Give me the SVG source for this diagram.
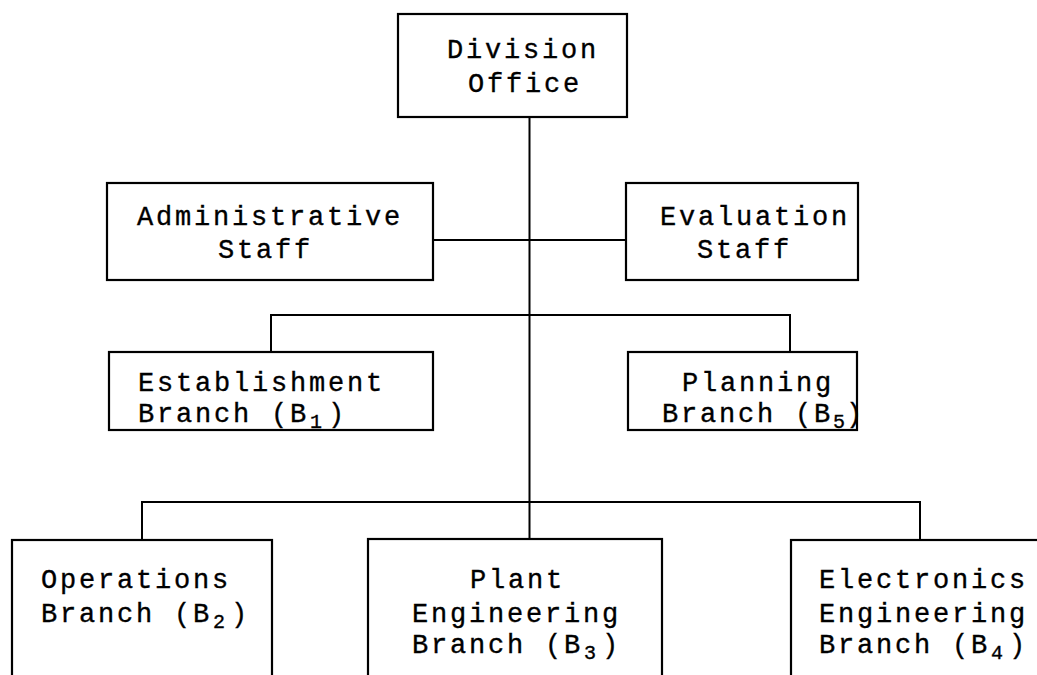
<svg xmlns="http://www.w3.org/2000/svg" width="1037" height="675" viewBox="0 0 1037 675">
<style>
.box{fill:#fff;stroke:#000;stroke-width:2.2}
.ln{fill:none;stroke:#000;stroke-width:2}
text{font-family:"Liberation Mono","Courier New",monospace;font-size:27px;letter-spacing:2.8px;fill:#000;stroke:#000;stroke-width:0.35}
.sub{font-size:20px;letter-spacing:0}
</style>
<rect width="1037" height="675" fill="#fff"/>
<g id="connectors">
<path class="ln" d="M529.5 117 V539"/>
<path class="ln" d="M433 240 H626"/>
<path class="ln" d="M271 352 V315 H790 V352"/>
<path class="ln" d="M142 540 V502 H920 V540"/>
</g>
<g id="division-office">
<rect class="box" x="398" y="14" width="229" height="103"/>
<text x="447" y="58">Division</text>
<text x="468" y="92">Office</text>
</g>
<g id="administrative-staff">
<rect class="box" x="107" y="183" width="326" height="97"/>
<text x="137" y="225">Administrative</text>
<text x="218" y="258">Staff</text>
</g>
<g id="evaluation-staff">
<rect class="box" x="626" y="183" width="232" height="97"/>
<text x="660" y="225">Evaluation</text>
<text x="697" y="258">Staff</text>
</g>
<g id="establishment-branch">
<rect class="box" x="109" y="352" width="324" height="78"/>
<text x="138" y="391">Establishment</text>
<text x="138" y="422">Branch (B<tspan class="sub" x="310" dy="6">1</tspan><tspan x="328" dy="-6">)</tspan></text>
</g>
<g id="planning-branch">
<rect class="box" x="628" y="352" width="229" height="78"/>
<text x="682" y="391">Planning</text>
<text x="662" y="422">Branch (B<tspan class="sub" x="833" dy="6">5</tspan><tspan x="846" dy="-6">)</tspan></text>
</g>
<g id="operations-branch">
<rect class="box" x="12" y="540" width="260" height="160"/>
<text x="41" y="588">Operations</text>
<text x="41" y="622">Branch (B<tspan class="sub" x="213" dy="6">2</tspan><tspan x="231" dy="-6">)</tspan></text>
</g>
<g id="plant-engineering-branch">
<rect class="box" x="368" y="539" width="294" height="160"/>
<text x="470" y="588">Plant</text>
<text x="412" y="622">Engineering</text>
<text x="412" y="653">Branch (B<tspan class="sub" x="584" dy="6">3</tspan><tspan x="602" dy="-6">)</tspan></text>
</g>
<g id="electronics-engineering-branch">
<rect class="box" x="791" y="540" width="280" height="160"/>
<text x="819" y="588">Electronics</text>
<text x="819" y="622">Engineering</text>
<text x="819" y="653">Branch (B<tspan class="sub" x="991" dy="6">4</tspan><tspan x="1009" dy="-6">)</tspan></text>
</g>
</svg>
